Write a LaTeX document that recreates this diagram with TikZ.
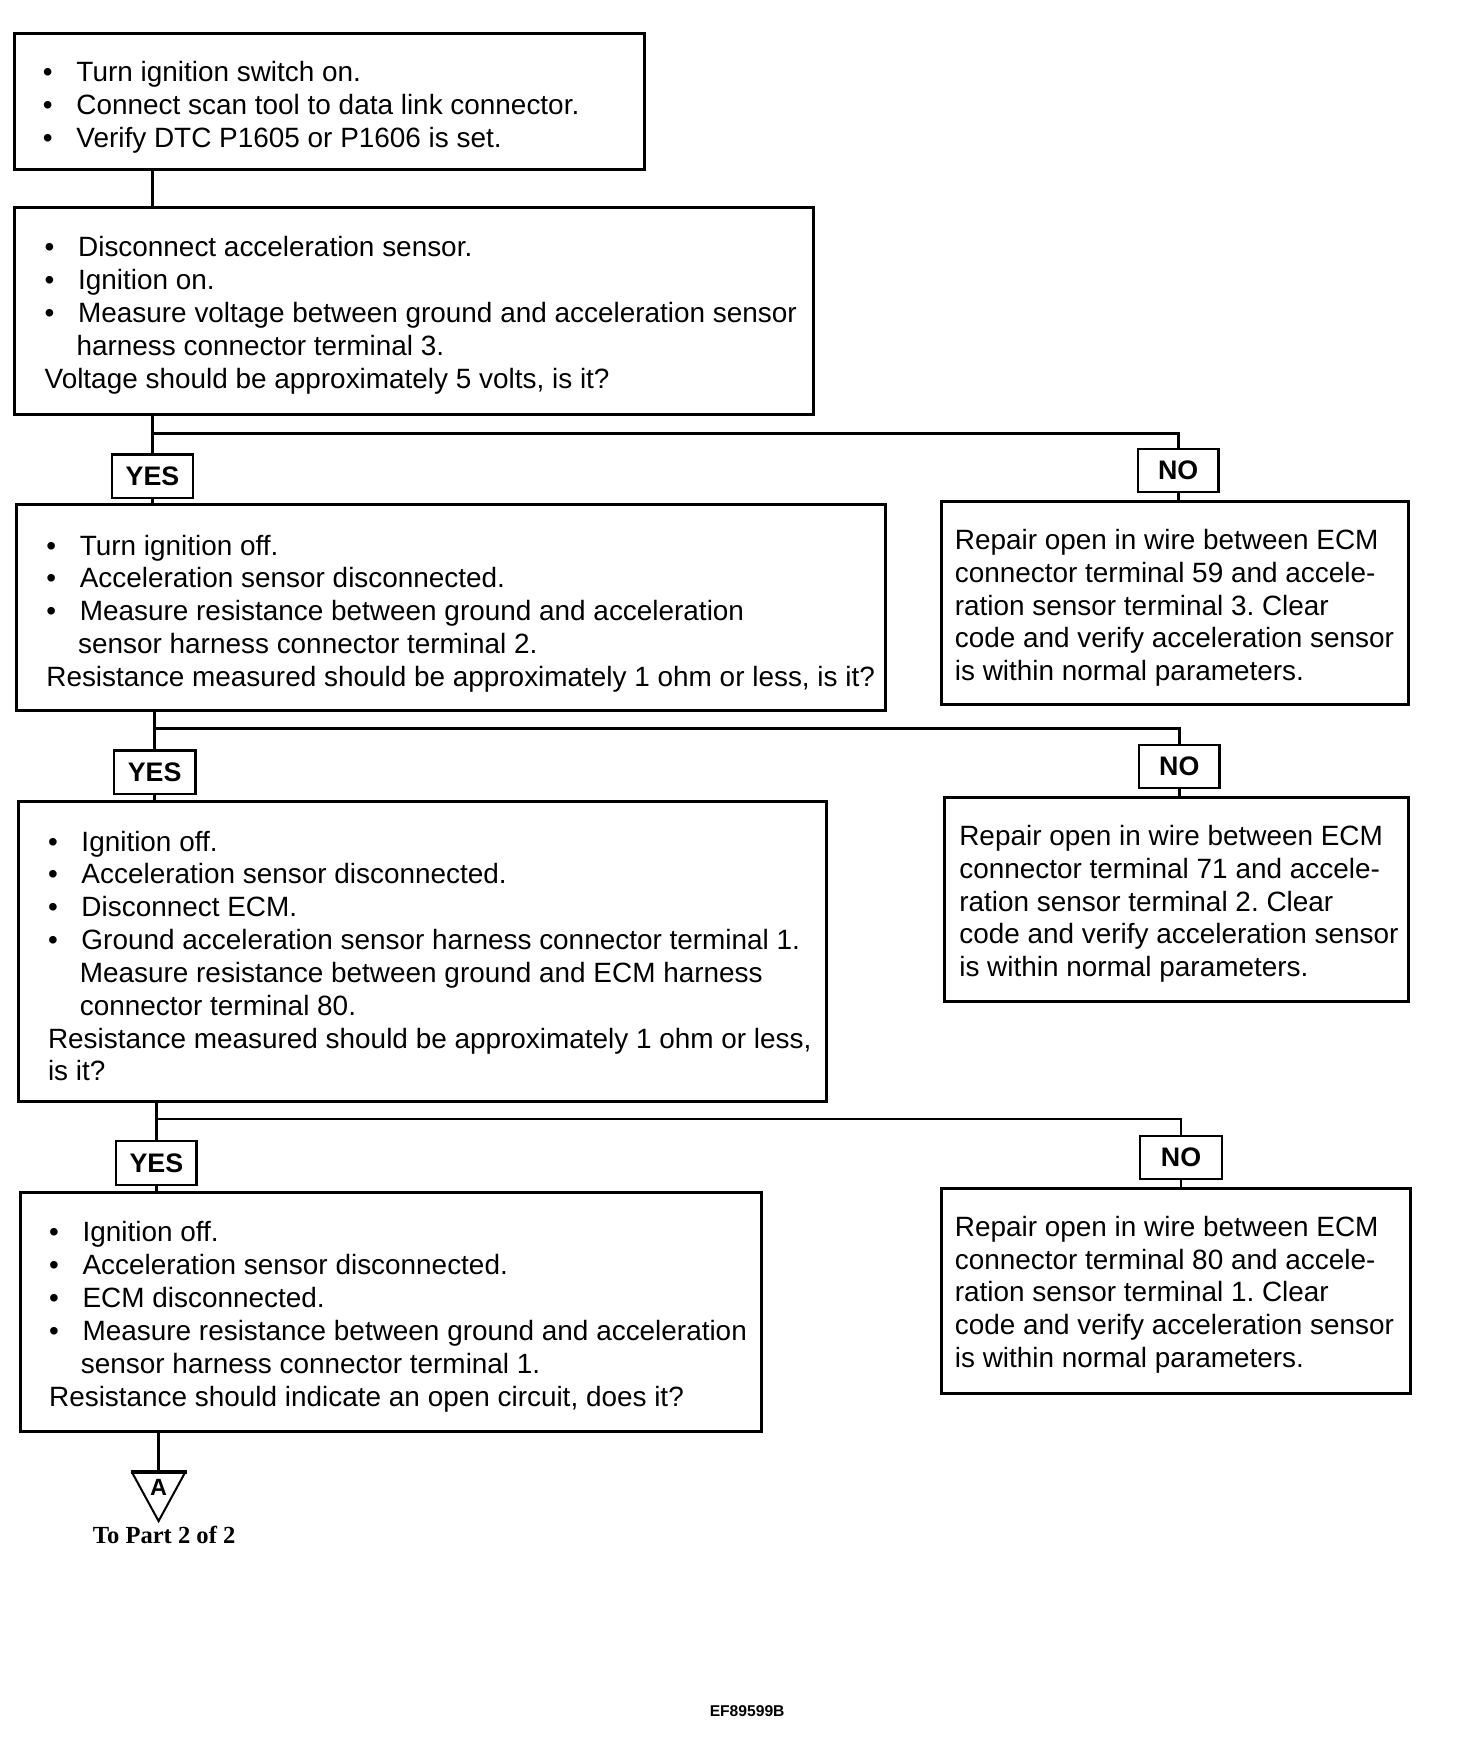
\documentclass[tikz,border=0pt]{standalone}
\usepackage{fontspec}
\setmainfont{Liberation Sans}
\newfontfamily\tpfont{Liberation Serif}
\newcommand\bul{\makebox[30pt][l]{•}}
\newcommand\cind{\hspace*{28.5pt}}
\frenchspacing
\begin{document}
\begin{tikzpicture}[x=1pt,y=-1pt,
  box/.style={draw, line width=2.7pt, inner sep=0pt, outer sep=0pt, anchor=north west},
  lbl/.style={draw, line width=2pt, inner sep=0pt, outer sep=0pt, minimum width=72pt, minimum height=38.5pt, font=\bfseries\fontsize{24}{24}\selectfont},
  txt/.style={anchor=base west, inner sep=0pt, outer sep=0pt, font=\fontsize{25}{29.4}\selectfont},
  wire/.style={line width=2.6pt}]
\useasboundingbox (0,0) rectangle (1318,1567);

% main boxes
\node[box, minimum width=564pt, minimum height=122pt] (b1) at (13,30) {};
\node[box, minimum width=715pt, minimum height=185pt] (b2) at (13,186) {};
\node[box, minimum width=778pt, minimum height=184pt] (b3) at (15,452) {};
\node[box, minimum width=723pt, minimum height=268pt] (b4) at (17,718) {};
\node[box, minimum width=664pt, minimum height=214pt] (b5) at (18,1068) {};
% repair boxes
\node[box, minimum width=418pt, minimum height=182pt] (r1) at (843,449) {};
\node[box, minimum width=415pt, minimum height=183pt] (r2) at (846,714) {};
\node[box, minimum width=420pt, minimum height=184pt] (r3) at (843,1064) {};

% texts
\node[txt] (t1) at (38.5,73) {\begin{tabular}[t]{@{}l@{}}
\bul Turn ignition switch on.\\
\bul Connect scan tool to data link connector.\\
\bul Verify DTC P1605 or P1606 is set.
\end{tabular}};
\node[txt] (t2) at (40,230) {\begin{tabular}[t]{@{}l@{}}
\bul Disconnect acceleration sensor.\\
\bul Ignition on.\\
\bul Measure voltage between ground and acceleration sensor\\
\cind harness connector terminal 3.\\
Voltage should be approximately 5 volts, is it?
\end{tabular}};
\node[txt] (t3) at (41.5,497) {\begin{tabular}[t]{@{}l@{}}
\bul Turn ignition off.\\
\bul Acceleration sensor disconnected.\\
\bul Measure resistance between ground and acceleration\\
\cind sensor harness connector terminal 2.\\
Resistance measured should be approximately 1 ohm or less, is it?
\end{tabular}};
\node[txt] (t4) at (43,762) {\begin{tabular}[t]{@{}l@{}}
\bul Ignition off.\\
\bul Acceleration sensor disconnected.\\
\bul Disconnect ECM.\\
\bul Ground acceleration sensor harness connector terminal 1.\\
\cind Measure resistance between ground and ECM harness\\
\cind connector terminal 80.\\
Resistance measured should be approximately 1 ohm or less,\\
is it?
\end{tabular}};
\node[txt] (t5) at (44,1112) {\begin{tabular}[t]{@{}l@{}}
\bul Ignition off.\\
\bul Acceleration sensor disconnected.\\
\bul ECM disconnected.\\
\bul Measure resistance between ground and acceleration\\
\cind sensor harness connector terminal 1.\\
Resistance should indicate an open circuit, does it?
\end{tabular}};
\node[txt] (t6) at (855,492) {\begin{tabular}[t]{@{}l@{}}
Repair open in wire between ECM\\
connector terminal 59 and accele-\\
ration sensor terminal 3. Clear\\
code and verify acceleration sensor\\
is within normal parameters.
\end{tabular}};
\node[txt] (t7) at (859,757) {\begin{tabular}[t]{@{}l@{}}
Repair open in wire between ECM\\
connector terminal 71 and accele-\\
ration sensor terminal 2. Clear\\
code and verify acceleration sensor\\
is within normal parameters.
\end{tabular}};
\node[txt] (t8) at (855,1107) {\begin{tabular}[t]{@{}l@{}}
Repair open in wire between ECM\\
connector terminal 80 and accele-\\
ration sensor terminal 1. Clear\\
code and verify acceleration sensor\\
is within normal parameters.
\end{tabular}};

% YES / NO labels
\node[lbl, minimum width=73pt, minimum height=39pt] (yes1) at (136.5,426.5) {YES};
\node[lbl] (no1) at (1055,421) {NO};
\node[lbl, minimum width=73pt, minimum height=39pt] (yes2) at (138.5,691.5) {YES};
\node[lbl] (no2) at (1056,686.5) {NO};
\node[lbl, minimum width=72pt, minimum height=39pt] (yes3) at (140,1041.5) {YES};
\node[lbl, minimum width=73pt] (no3) at (1057.5,1036.5) {NO};

% junctions
\coordinate (j1) at (136.5,388);
\coordinate (j2) at (138.5,652);
\coordinate (j3) at (140,1002);
\coordinate (tri) at (142,1318);

% connectors
\draw[wire] (b1.south -| yes1.center) -- (b2.north -| yes1.center);
\draw[wire] (b2.south -| yes1.center) -- (yes1.north);
\draw[wire] (yes1.south) -- (b3.north -| yes1.center);
\draw[wire] (j1) -| (no1.north);
\draw[wire] (no1.south) -- (r1.north -| no1.center);

\draw[wire] (b3.south -| yes2.center) -- (yes2.north);
\draw[wire] (yes2.south) -- (b4.north -| yes2.center);
\draw[wire] (j2) -| (no2.north);
\draw[wire] (no2.south) -- (r2.north -| no2.center);

\draw[wire] (b4.south -| yes3.center) -- (yes3.north);
\draw[wire] (yes3.south) -- (b5.north -| yes3.center);
\draw[wire] (j3) -| (no3.north);
\draw[wire] (no3.south) -- (r3.north -| no3.center);

\draw[wire] (b5.south -| tri) -- (tri);

% off-page connector triangle
\draw[line width=1.8pt, line join=miter] ([xshift=-24pt]tri) -- (142,1362) -- ([xshift=24pt]tri);
\draw[line width=3pt] ([xshift=-25pt]tri) -- ([xshift=25pt]tri);
\node[inner sep=0pt, font=\bfseries\fontsize{21}{21}\selectfont] (A) at (142,1332) {A};
\node[anchor=base, inner sep=0pt, font=\tpfont\bfseries\fontsize{22}{22}\selectfont] (topart) at (147,1382) {To Part 2 of 2};

\node[anchor=base, inner sep=0pt, font=\bfseries\fontsize{14}{14}\selectfont] (code) at (669,1537) {EF89599B};
\end{tikzpicture}
\end{document}
